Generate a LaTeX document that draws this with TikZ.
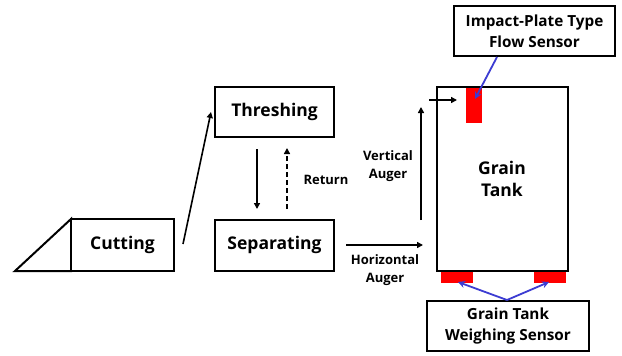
\documentclass[tikz,border=0pt]{standalone}
\usepackage{fontspec}
\setmainfont{Open Sans}
\usetikzlibrary{arrows.meta}
\begin{document}
\begin{tikzpicture}[x=1pt,y=-1pt,
  box/.style={draw=black,line width=2pt,fill=white,inner sep=0pt},
  big/.style={font=\bfseries\fontsize{17.5}{22}\selectfont,align=center},
  small/.style={font=\bfseries\fontsize{13}{18.5}\selectfont,align=center},
  med/.style={font=\bfseries\fontsize{15.3}{21}\selectfont,align=center},
  arr/.style={line width=1.6pt,-{Triangle[length=6pt,width=6pt]}},
  barr/.style={draw={rgb,255:red,60;green,60;blue,210},line width=1.8pt,-{Stealth[length=7pt,width=7pt]}},
  sensor/.style={fill=red,draw=none}]
\useasboundingbox (0,0) rectangle (622,356);
% boxes
\draw[box,line join=miter] (15,271) -- (71,219) -- (71,271) -- cycle;
\node[box,minimum width=103pt,minimum height=52pt] (cut) at (122.5,245) {};
\node[big] (cutt) at (122.5,245) {Cutting};
\node[box,minimum width=119pt,minimum height=50pt] (thr) at (274.5,112) {};
\node[big] at (thr) {Threshing};
\node[box,minimum width=119pt,minimum height=51pt] (sep) at (274.5,245) {};
\node[big] at (sep) {Separating};
\node[box,minimum width=131pt,minimum height=184pt] (tank) at (502.5,179) {};
\node[big] at (502,179) {Grain\\Tank};
% sensors
\fill[sensor] (466,88) rectangle (482,123);
\coordinate (fs) at (475,99);
\fill[sensor] (441,272) rectangle (473,283);
\fill[sensor] (534,272) rectangle (566,283);
\coordinate (ws1) at (458,282);
\coordinate (ws2) at (549,282);
\node[box,minimum width=161pt,minimum height=50pt] (fsbox) at (534.5,31) {};
\node[med] at (fsbox) {Impact-Plate Type\\Flow Sensor};
\node[box,minimum width=162pt,minimum height=50pt] (wsbox) at (508,326) {};
\node[med] at (wsbox) {Grain Tank\\Weighing Sensor};
% connectors
\coordinate (c1) at (183,244);
\coordinate (c2) at (211,112);
\draw[arr] (c1) -- (c2);
\coordinate (d1) at (257,149);
\coordinate (d2) at (257,209);
\draw[arr] (d1) -- (d2);
\coordinate (u1) at (287,209);
\coordinate (u2) at (287,148);
\draw[arr,dash pattern=on 5pt off 3pt] (u1) -- (u2);
\node[small,anchor=west] (ret) at (300,180) {Return};
\coordinate (h1) at (346,245);
\coordinate (h2) at (423,245);
\draw[arr] (h1) -- (h2);
\node[small] (ha) at (385,270) {Horizontal\\Auger};
\coordinate (v1) at (421,220);
\coordinate (v2) at (421,107);
\draw[arr] (v1) -- (v2);
\node[small] (va) at (388,166) {Vertical\\Auger};
\coordinate (s1) at (429,100);
\coordinate (s2) at (457,100);
\draw[arr] (s1) -- (s2);
\coordinate (fb) at (497,57);
\draw[barr] (fb) -- (fs);
\coordinate (wb) at (507,300);
\draw[barr] (wb) -- (ws1);
\draw[barr] (wb) -- (ws2);
\end{tikzpicture}
\end{document}
